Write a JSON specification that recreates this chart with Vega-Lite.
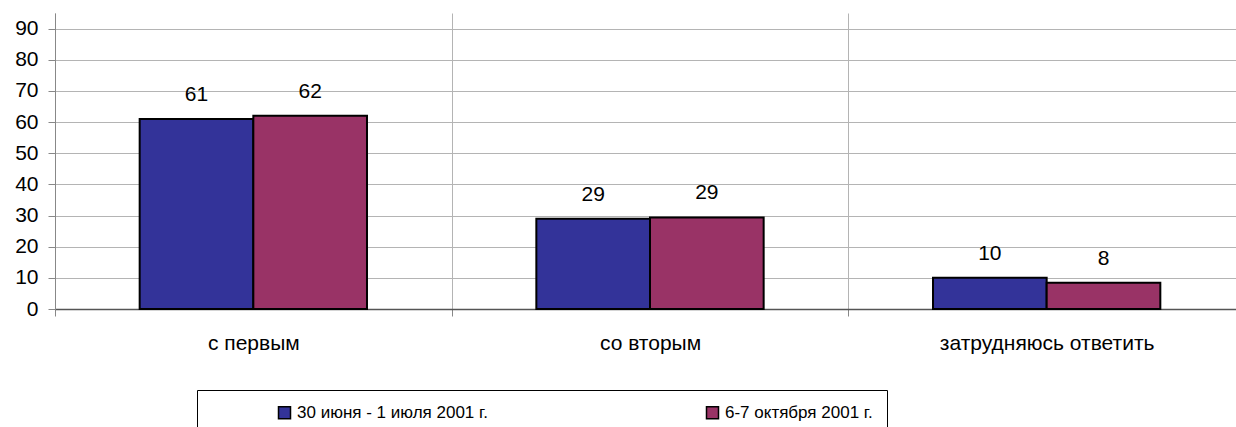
{
  "$schema": "https://vega.github.io/schema/vega-lite/v6.json",
  "width": 1181,
  "height": 296,
  "autosize": {"type": "none"},
  "padding": {"left": 55, "top": 13, "right": 0, "bottom": 118},
  "background": "white",
  "config": {
    "view": {"stroke": null},
    "font": "Liberation Sans",
    "axis": {"labelFont": "Liberation Sans", "labelColor": "black", "labelFontSize": 21}
  },
  "data": {
    "values": [
      {"answer": "с первым", "period": "30 июня - 1 июля 2001 г.", "value": 61},
      {"answer": "с первым", "period": "6-7 октября 2001 г.", "value": 62},
      {"answer": "со вторым", "period": "30 июня - 1 июля 2001 г.", "value": 29},
      {"answer": "со вторым", "period": "6-7 октября 2001 г.", "value": 29.4},
      {"answer": "затрудняюсь ответить", "period": "30 июня - 1 июля 2001 г.", "value": 10},
      {"answer": "затрудняюсь ответить", "period": "6-7 октября 2001 г.", "value": 8.4}
    ]
  },
  "encoding": {
    "x": {
      "field": "answer", "type": "nominal", "sort": null,
      "scale": {"range": [0, 1190], "paddingInner": 0, "paddingOuter": 0},
      "axis": {
        "title": null, "labelAngle": 0, "tickBand": "extent", "grid": true, "labelLimit": 0,
        "gridColor": "#b4b4b4", "gridWidth": 1, "tickColor": "#888888", "tickSize": 7,
        "domainColor": "#555555", "domainWidth": 1.5, "labelPadding": 16, "labelFontSize": 21
      }
    },
    "xOffset": {
      "field": "period", "type": "nominal",
      "scale": {"paddingInner": 0, "paddingOuter": 0.745, "domain": ["30 июня - 1 июля 2001 г.", "6-7 октября 2001 г."]}
    },
    "y": {
      "field": "value", "type": "quantitative",
      "scale": {"domain": [0, 95], "nice": false},
      "axis": {
        "title": null, "values": [0, 10, 20, 30, 40, 50, 60, 70, 80, 90],
        "grid": true, "gridColor": "#b4b4b4", "tickColor": "#888888", "tickSize": 7,
        "domainColor": "#888888", "labelPadding": 10
      }
    }
  },
  "layer": [
    {
      "mark": {"type": "bar", "stroke": "black", "strokeWidth": 2},
      "encoding": {
        "color": {
          "field": "period", "type": "nominal",
          "scale": {"domain": ["30 июня - 1 июля 2001 г.", "6-7 октября 2001 г."], "range": ["#333399", "#993366"]},
          "legend": {
            "orient": "none", "legendX": 142, "legendY": 377,
            "direction": "horizontal", "columns": 2,
            "title": "\u00a0", "titleOrient": "left", "titlePadding": 65, "titleFontSize": 20,
            "strokeColor": "black", "fillColor": "white", "padding": 14,
            "symbolType": "square", "symbolSize": 144, "symbolStrokeColor": "black", "symbolStrokeWidth": 1.5,
            "labelFont": "Liberation Sans", "labelFontSize": 17, "labelColor": "black",
            "labelOffset": 4, "columnPadding": 215, "labelLimit": 0
          }
        }
      }
    },
    {
      "mark": {"type": "text", "baseline": "alphabetic", "dy": -18, "fontSize": 21, "color": "black", "font": "Liberation Sans"},
      "encoding": {
        "text": {"field": "value", "type": "quantitative", "format": ".0f"}
      }
    }
  ]
}
